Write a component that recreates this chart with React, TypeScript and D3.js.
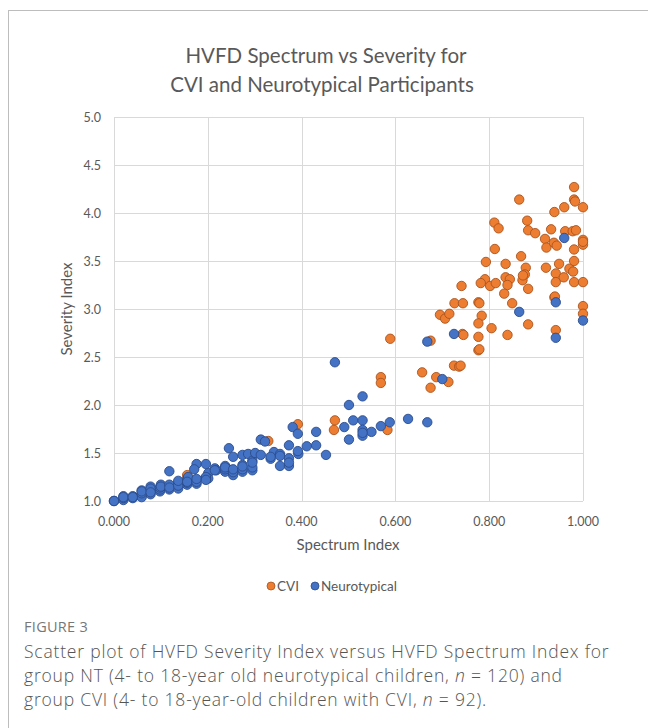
import * as d3 from 'd3'

// [spectrum index, severity index]
const cviPoints: [number, number][] = [
  [0.156, 1.27], [0.329, 1.625], [0.392, 1.8], [0.471, 1.84], [0.469, 1.74],
  [0.583, 1.74], [0.569, 2.29], [0.569, 2.23], [0.589, 2.69], [0.675, 2.67],
  [0.657, 2.34], [0.687, 2.29], [0.675, 2.18], [0.713, 2.24], [0.725, 2.41],
  [0.736, 2.4], [0.743, 2.74], [0.745, 2.73], [0.777, 2.57], [0.779, 2.58],
  [0.777, 2.71], [0.695, 2.94], [0.706, 2.9], [0.715, 2.95], [0.784, 2.93],
  [0.777, 2.85], [0.805, 2.8], [0.839, 2.73], [0.883, 2.84], [0.726, 3.06],
  [0.744, 3.06], [0.777, 3.07], [0.849, 3.06], [0.741, 3.24], [0.793, 3.49],
  [0.835, 3.47], [0.868, 3.55], [0.878, 3.43], [0.876, 3.36], [0.871, 3.3],
  [0.883, 3.21], [0.791, 3.31], [0.782, 3.27], [0.802, 3.24], [0.814, 3.27],
  [0.835, 3.33], [0.844, 3.31], [0.839, 3.25], [0.832, 3.16], [0.921, 3.43],
  [0.949, 3.47], [0.942, 3.37], [0.942, 3.28], [0.959, 3.33], [0.971, 3.42],
  [0.979, 3.39], [0.981, 3.28], [1.0, 3.28], [0.981, 3.5], [0.939, 3.12],
  [1.0, 3.03], [1.0, 2.95], [0.942, 2.78], [0.981, 4.27], [0.981, 4.14],
  [0.983, 4.12], [0.864, 4.14], [0.96, 4.06], [0.939, 4.01], [1.0, 4.06],
  [0.811, 3.9], [0.82, 3.84], [0.881, 3.92], [0.883, 3.82], [0.898, 3.79],
  [0.932, 3.83], [0.919, 3.73], [0.922, 3.64], [0.938, 3.69], [0.944, 3.66],
  [0.962, 3.81], [0.978, 3.81], [0.985, 3.82], [1.0, 3.72], [1.0, 3.67],
  [0.981, 3.62], [0.812, 3.625], [0.739, 2.41], [0.779, 3.06], [0.872, 3.35],
  [1.0, 3.7], [0.94, 3.13],
]

const ntPoints: [number, number][] = [
  [0.0, 1.0], [0.02, 1.05], [0.02, 1.01], [0.04, 1.04], [0.04, 1.03],
  [0.059, 1.11], [0.059, 1.06], [0.059, 1.04], [0.078, 1.15], [0.078, 1.11],
  [0.078, 1.07], [0.098, 1.1], [0.1, 1.17], [0.118, 1.31], [0.118, 1.15],
  [0.118, 1.12], [0.137, 1.19], [0.137, 1.13], [0.156, 1.23], [0.156, 1.17],
  [0.158, 1.25], [0.176, 1.385], [0.171, 1.33], [0.196, 1.385], [0.196, 1.24],
  [0.176, 1.18], [0.201, 1.29], [0.215, 1.34], [0.201, 1.235], [0.218, 1.32],
  [0.237, 1.365], [0.237, 1.305], [0.241, 1.34], [0.245, 1.55], [0.254, 1.46],
  [0.254, 1.32], [0.254, 1.27], [0.274, 1.48], [0.274, 1.375], [0.274, 1.305],
  [0.286, 1.49], [0.295, 1.42], [0.295, 1.32], [0.301, 1.5], [0.313, 1.64],
  [0.322, 1.62], [0.341, 1.51], [0.334, 1.44], [0.354, 1.49], [0.354, 1.365],
  [0.373, 1.58], [0.373, 1.445], [0.373, 1.365], [0.381, 1.77], [0.392, 1.7],
  [0.393, 1.49], [0.411, 1.57], [0.431, 1.72], [0.431, 1.58], [0.452, 1.48],
  [0.471, 2.445], [0.53, 2.09], [0.501, 2.0], [0.491, 1.77], [0.51, 1.84],
  [0.53, 1.84], [0.53, 1.74], [0.53, 1.68], [0.501, 1.64], [0.549, 1.72],
  [0.569, 1.78], [0.588, 1.82], [0.627, 1.855], [0.668, 1.82], [0.668, 2.66],
  [0.725, 2.74], [0.7, 2.27], [0.864, 2.97], [0.942, 3.07], [1.0, 2.88],
  [0.942, 2.7], [0.96, 3.74],
  [0.0, 1.0], [0.0, 1.0], [0.02, 1.03], [0.02, 1.04], [0.04, 1.05],
  [0.04, 1.04], [0.059, 1.08], [0.059, 1.1], [0.078, 1.13], [0.078, 1.09],
  [0.098, 1.12], [0.098, 1.14], [0.1, 1.15], [0.118, 1.17], [0.118, 1.14],
  [0.137, 1.16], [0.137, 1.21], [0.156, 1.19], [0.156, 1.2], [0.176, 1.2],
  [0.176, 1.23], [0.196, 1.25], [0.196, 1.22], [0.215, 1.32], [0.237, 1.33],
  [0.237, 1.35], [0.254, 1.3], [0.254, 1.33], [0.274, 1.33], [0.274, 1.36],
  [0.295, 1.35], [0.295, 1.4], [0.313, 1.48], [0.334, 1.46], [0.354, 1.47],
  [0.373, 1.4], [0.392, 1.52], [0.53, 1.71],
]

const xTicks = [0, 0.2, 0.4, 0.6, 0.8, 1.0]
const yTicks = [1.0, 1.5, 2.0, 2.5, 3.0, 3.5, 4.0, 4.5, 5.0]

const chartFont = 'Lato, "Open Sans", sans-serif'
const textGray = '#595959'

export default function App() {
  const x = d3.scaleLinear().domain([0, 1]).range([114, 583])
  const y = d3.scaleLinear().domain([1, 5]).range([501, 117])
  const r = 4.7

  return (
    <svg
      width={648}
      height={728}
      style={{ position: 'absolute', left: 0, top: 0, background: '#fff' }}
    >
      <rect x={8.5} y={10.5} width={700} height={800} fill="#fff" stroke="#bdbdbd" />

      <g fontFamily={chartFont} fill={textGray} textAnchor="middle" fontSize={20.5}>
        <text x={326} y={63}>HVFD Spectrum vs Severity for</text>
        <text x={322} y={92}>CVI and Neurotypical Participants</text>
      </g>

      <g stroke="#d9d9d9" strokeWidth={1}>
        {yTicks.map((t) => (
          <line key={'y' + t} x1={x(0)} x2={x(1)} y1={Math.round(y(t)) + 0.5} y2={Math.round(y(t)) + 0.5} />
        ))}
        {xTicks.map((t) => (
          <line key={'x' + t} y1={y(1)} y2={y(5)} x1={Math.round(x(t)) + 0.5} x2={Math.round(x(t)) + 0.5} />
        ))}
      </g>

      <g fontFamily={chartFont} fill={textGray} fontSize={12.5}>
        {yTicks.map((t) => (
          <text key={'yl' + t} x={x(0) - 13} y={y(t) + 4.5} textAnchor="end">
            {d3.format('.1f')(t)}
          </text>
        ))}
        {xTicks.map((t) => (
          <text key={'xl' + t} x={x(t)} y={y(1) + 25} textAnchor="middle">
            {d3.format('.3f')(t)}
          </text>
        ))}
        <text x={348} y={550} textAnchor="middle" fontSize={15}>Spectrum Index</text>
        <text transform={`translate(72,${(y(1) + y(5)) / 2}) rotate(-90)`} textAnchor="middle" fontSize={15}>
          Severity Index
        </text>
      </g>

      <g>
        {cviPoints.map((d, i) => (
          <circle key={'c' + i} cx={x(d[0])} cy={y(d[1])} r={r} fill="#ED7D31" stroke="#A9541E" strokeWidth={0.9} />
        ))}
        {ntPoints.map((d, i) => (
          <circle key={'n' + i} cx={x(d[0])} cy={y(d[1])} r={r} fill="#4472C4" stroke="#2B4D8C" strokeWidth={0.9} />
        ))}
      </g>

      <g fontFamily={chartFont} fill={textGray} fontSize={13.5}>
        <circle cx={271} cy={586} r={4} fill="#ED7D31" stroke="#A9541E" strokeWidth={0.8} />
        <text x={277} y={591}>CVI</text>
        <circle cx={315} cy={586} r={4} fill="#4472C4" stroke="#2B4D8C" strokeWidth={0.8} />
        <text x={321} y={591}>Neurotypical</text>
      </g>

      <g fontFamily='"Open Sans", sans-serif'>
        <text x={24} y={632} fontSize={14.5} fill="#777" letterSpacing={0.3}>FIGURE 3</text>
        <g fontSize={17.5} fontWeight={300} fill="#555" letterSpacing={0.8}>
          <text x={24} y={658}>Scatter plot of HVFD Severity Index versus HVFD Spectrum Index for</text>
          <text x={24} y={682}>
            group NT (4- to 18-year old neurotypical children, <tspan fontStyle="italic">n</tspan> = 120) and
          </text>
          <text x={24} y={706}>
            group CVI (4- to 18-year-old children with CVI, <tspan fontStyle="italic">n</tspan> = 92).
          </text>
        </g>
      </g>
    </svg>
  )
}
